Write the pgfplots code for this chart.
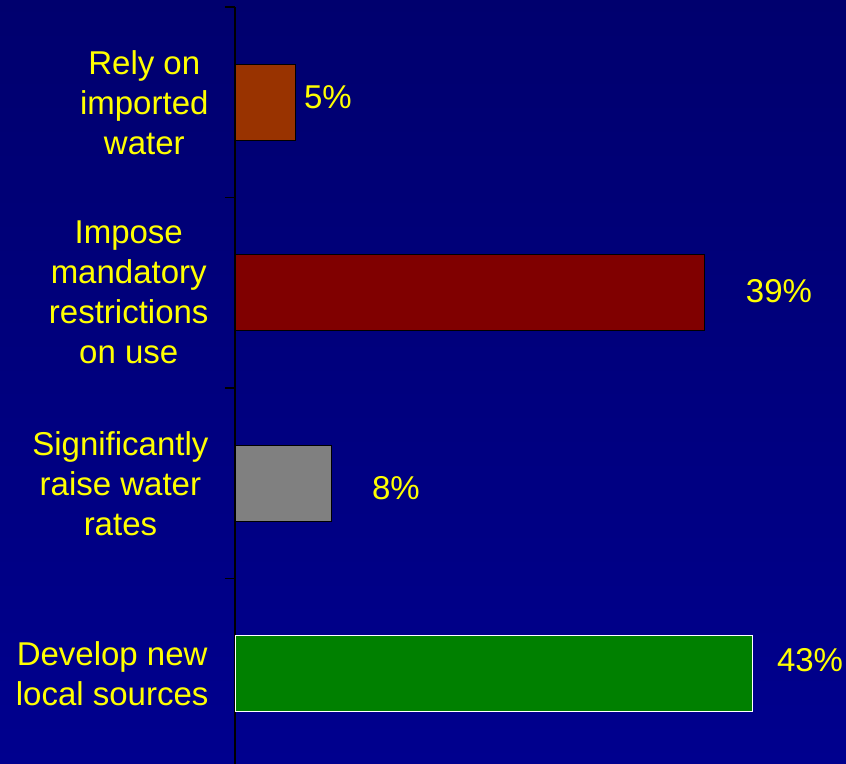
\documentclass[border=0pt]{standalone}
\usepackage{pgfplots}
\pgfplotsset{compat=1.18}
\usepackage{fontspec}
\setmainfont{Liberation Sans}
\definecolor{bgtop}{RGB}{0,0,110}
\definecolor{bgbot}{RGB}{0,0,142}
\definecolor{labyellow}{RGB}{255,255,0}
\definecolor{rust}{RGB}{153,51,0}
\definecolor{maroon}{RGB}{128,0,0}
\definecolor{midgray}{RGB}{128,128,128}
\definecolor{dgreen}{RGB}{0,128,0}
\begin{document}
\begin{tikzpicture}
\useasboundingbox (0,0) rectangle (846bp,764bp);
\shade[top color=bgtop, bottom color=bgbot] (0,0) rectangle (846bp,764bp);
\begin{axis}[
  at={(235bp,0bp)}, anchor=south west,
  scale only axis,
  width=601.5bp, height=757bp,
  xmin=0, xmax=50,
  ymin=-0.5, ymax=3.474,
  y dir=reverse,
  axis x line=none,
  axis y line*=left,
  axis line style={black, line width=1.2bp},
  ytick={-0.5,0.5,1.5,2.5},
  major tick length=10bp,
  tick align=outside,
  every tick/.style={black, line width=1.5bp},
  yticklabels={{Rely on\\imported\\water},{Impose\\mandatory\\restrictions\\on use},{Significantly\\raise water\\rates},{Develop new\\local sources}},
  yticklabel style={font=\fontsize{33bp}{40bp}\selectfont, text=labyellow, align=center, xshift=-13bp, yshift=-95.25bp},
  xbar, bar width=76bp, bar shift=0pt,
  clip=false,
]
\addplot[fill=rust, draw=black, line width=1bp] coordinates {(5,0)};
\addplot[fill=maroon, draw=black, line width=1bp] coordinates {(39,1)};
\addplot[fill=midgray, draw=black, line width=1bp] coordinates {(8,2)};
\addplot[fill=dgreen, draw=white, line width=1bp] coordinates {(43,3)};
\begin{scope}[every node/.style={font=\fontsize{33bp}{40bp}\selectfont, text=labyellow}]
\node at (axis cs:7.73,-0.028) {5\%};
\node at (axis cs:45.22,0.991) {39\%};
\node at (axis cs:13.38,2.025) {8\%};
\node at (axis cs:47.8,2.928) {43\%};
\end{scope}
\end{axis}
\end{tikzpicture}
\end{document}
